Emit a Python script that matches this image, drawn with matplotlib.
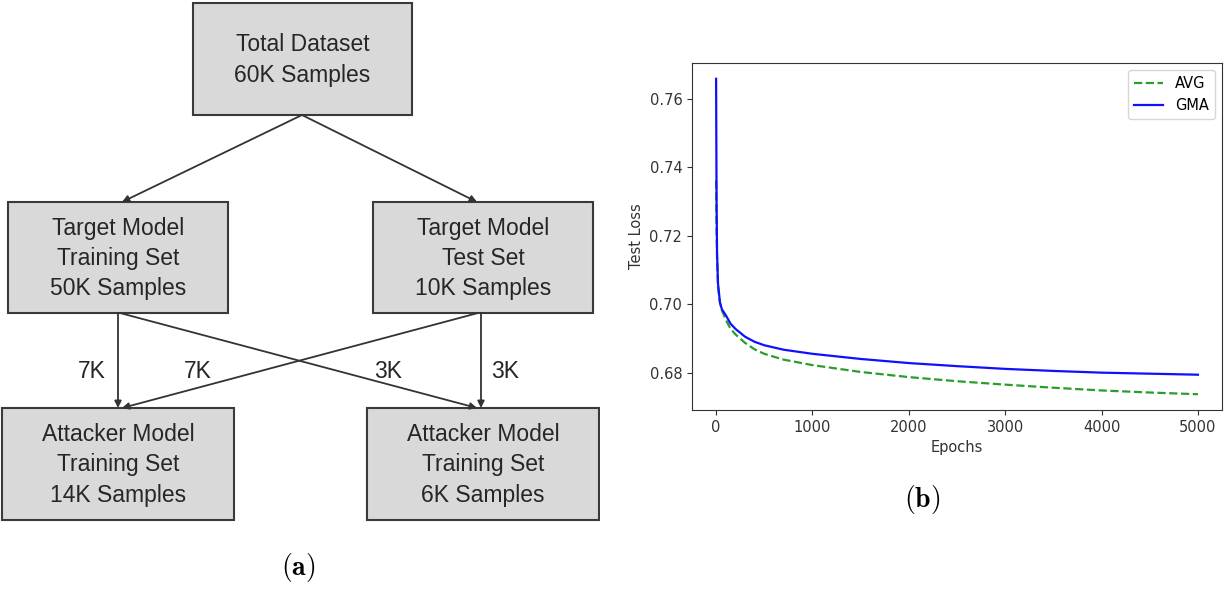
import matplotlib.pyplot as plt
from matplotlib.patches import Rectangle

plt.rcParams['mathtext.fontset'] = 'cm'

# ---- data for panel (b) ----
epochs = [0, 5, 10, 20, 40, 60, 100, 150, 200, 300, 400, 500, 700,
          1000, 1500, 2000, 2500, 3000, 3500, 4000, 4500, 5000]
avg_loss = [0.7361, 0.722, 0.713, 0.705, 0.7005, 0.6982, 0.6955, 0.6928, 0.6912,
            0.6887, 0.6868, 0.6855, 0.6838, 0.6822, 0.6802, 0.6787, 0.6775,
            0.6765, 0.6756, 0.6748, 0.6742, 0.6737]
gma_loss = [0.7658, 0.730, 0.715, 0.706, 0.7005, 0.6985, 0.6968, 0.6943, 0.6928,
            0.6905, 0.6890, 0.6880, 0.6867, 0.6855, 0.6840, 0.6828, 0.6819,
            0.6811, 0.6805, 0.6800, 0.6797, 0.6794]

# ---- data for panel (a) ----
box_texts = ["Total Dataset\n60K Samples",
             "Target Model\nTraining Set\n50K Samples",
             "Target Model\nTest Set\n10K Samples",
             "Attacker Model\nTraining Set\n14K Samples",
             "Attacker Model\nTraining Set\n6K Samples"]
split_labels = ["7K", "7K", "3K", "3K"]

W, H = 1225, 590
fig = plt.figure(figsize=(W / 100, H / 100), dpi=100)

# diagram axes in pixel coordinates
ax_d = fig.add_axes([0, 0, 600 / W, 1])
ax_d.set_xlim(0, 600)
ax_d.set_ylim(H, 0)
ax_d.axis('off')

# box layout: (x0, y0, x1, y1) in pixels
boxes = [(193, 3, 412, 115),
         (8, 202, 228, 313),
         (373, 202, 593, 313),
         (2, 408, 234, 520),
         (367, 408, 599, 520)]
for (x0, y0, x1, y1), txt in zip(boxes, box_texts):
    ax_d.add_patch(Rectangle((x0, y0), x1 - x0, y1 - y0, facecolor='#d9d9d9',
                             edgecolor='#3a3a3a', lw=1.5))
    ax_d.text((x0 + x1) / 2, (y0 + y1) / 2 + 1, txt, ha='center', va='center',
              fontsize=16.5, family='Liberation Sans', color='#262626',
              linespacing=1.4)

arrows = [((302, 115), (122, 202)),
          ((302, 115), (477, 202)),
          ((118, 313), (118, 408)),
          ((120, 313), (477, 408)),
          ((481, 313), (481, 408)),
          ((478, 313), (122, 408))]
for start, end in arrows:
    ax_d.annotate('', xy=end, xytext=start,
                  arrowprops=dict(arrowstyle='-|>', color='#333333', lw=1.3,
                                  mutation_scale=10, shrinkA=0, shrinkB=0))

for (x, y), lab in zip([(92, 371), (198, 371), (388, 371), (505, 371)], split_labels):
    ax_d.text(x, y, lab, ha='center', va='center', fontsize=16.5,
              family='Liberation Sans', color='#262626')

ax_d.text(298, 568, r'$\mathbf{(a)}$', ha='center', va='center', fontsize=20)

# ---- line chart ----
ax = fig.add_axes([692 / W, 1 - 410 / H, (1222 - 692) / W, (410 - 63) / H])
ax.plot(epochs, avg_loss, '--', color='#2a9d2a', lw=1.6, label='AVG')
ax.plot(epochs, gma_loss, '-', color='#1010ff', lw=1.6, label='GMA')
ax.set_xticks([0, 1000, 2000, 3000, 4000, 5000])
ax.set_yticks([0.68, 0.70, 0.72, 0.74, 0.76])
ax.tick_params(labelsize=10.5, colors='#333333')
for s in ax.spines.values():
    s.set_color('#333333')
ax.set_xlabel('Epochs', fontsize=10.5, color='#333333')
ax.set_ylabel('Test Loss', fontsize=10.5, color='#333333')
ax.legend(loc='upper right', fontsize=10.5)

fig.text(922 / W, 1 - 500 / H, r'$\mathbf{(b)}$', ha='center', va='center', fontsize=20)

fig.savefig('out.png', dpi=100)
